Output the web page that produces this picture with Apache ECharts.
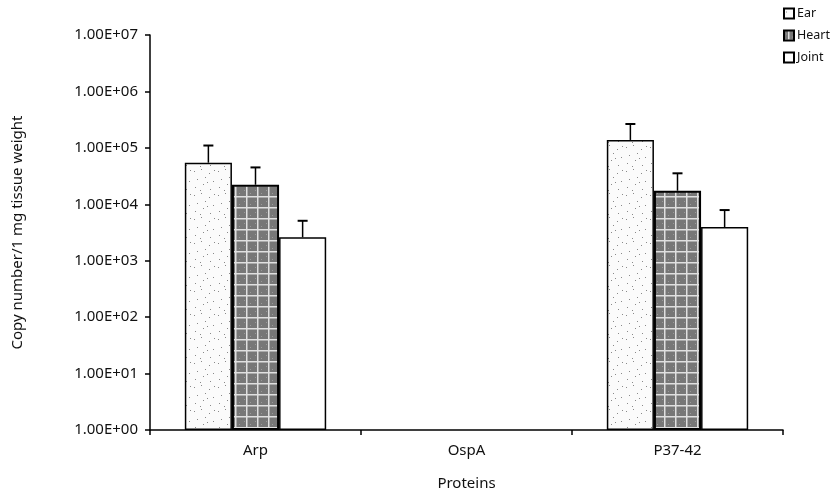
<!DOCTYPE html>
<html><head><meta charset="utf-8">
<script src="https://cdn.jsdelivr.net/npm/echarts@6/dist/echarts.min.js"></script>
<style>html,body{margin:0;padding:0;background:#fff}#c{width:832px;height:497px}</style>
</head><body><div id="c"></div>
<script>
const categories = ['Arp', 'OspA', 'P37-42'];
const seriesNames = ['Ear', 'Heart', 'Joint'];
const earValues = [54600, null, 138000];
const heartValues = [22200, null, 17400];
const jointValues = [2600, null, 3960];
const earUpper = [110000, null, 265000];
const heartUpper = [45000, null, 35400];
const jointUpper = [5100, null, 7900];
const yTickLabels = ['1.00E+00','1.00E+01','1.00E+02','1.00E+03','1.00E+04','1.00E+05','1.00E+06','1.00E+07'];

function makeEar(){
  const c = document.createElement('canvas'); c.width = 24; c.height = 24;
  const g = c.getContext('2d'); g.fillStyle = '#fbfbfb'; g.fillRect(0,0,24,24);
  g.fillStyle = '#8a8a8a';
  const pts = [[2,3],[9,1],[17,5],[5,11],[13,9],[21,13],[3,19],[11,16],[18,21],[8,22],[15,14],[22,2]];
  pts.forEach(p => g.fillRect(p[0], p[1], 1, 1));
  return c;
}
function makeHeart(){
  const c = document.createElement('canvas'); c.width = 11; c.height = 11;
  const g = c.getContext('2d'); g.fillStyle = '#777777'; g.fillRect(0,0,11,11);
  g.fillStyle = '#e0e0e0'; g.fillRect(0,9,11,1.5); g.fillRect(4,0,1.5,11);
  g.fillStyle = '#9a9a9a'; g.fillRect(2,3,1,1); g.fillRect(8,6,1,1);
  return c;
}
const earFill = {image: makeEar(), repeat: 'repeat'};
const heartFill = {image: makeHeart(), repeat: 'repeat'};

const fillStyles = [
  {color: earFill, borderColor: '#000', borderWidth: 1.5},
  {color: heartFill, borderColor: '#000', borderWidth: 2},
  {color: '#ffffff', borderColor: '#000', borderWidth: 1.5}
];
const values = [earValues, heartValues, jointValues];
const uppers = [earUpper, heartUpper, jointUpper];
const FONT = 'Noto Sans';

const series = [];
seriesNames.forEach((n, i) => {
  series.push({
    name: n, type: 'bar', data: values[i], barGap: '0%', barCategoryGap: '33%',
    itemStyle: fillStyles[i], emphasis: {disabled: true}, z: 2
  });
});
seriesNames.forEach((n, i) => {
  series.push({
    name: n + ' err', type: 'custom', z: 3,
    data: categories.map((c, k) => [k, values[i][k], uppers[i][k]]),
    renderItem: function(params, api){
      const v = api.value(1), u = api.value(2);
      if (v == null || isNaN(v) || u == null || isNaN(u)) return;
      const catW = api.size([1, 1])[0];
      const bw = catW * 0.67 / 3;
      const off = (i - 1) * bw;
      const p0 = api.coord([api.value(0), v]);
      const p1 = api.coord([api.value(0), u]);
      const x = p0[0] + off;
      return {type: 'group', children: [
        {type: 'line', shape: {x1: x, y1: p0[1], x2: x, y2: p1[1]}, style: {stroke: '#000', lineWidth: 1.5}},
        {type: 'line', shape: {x1: x - 5, y1: p1[1], x2: x + 5, y2: p1[1]}, style: {stroke: '#000', lineWidth: 2}}
      ]};
    }
  });
});

const chart = echarts.init(document.getElementById('c'));
chart.setOption({
  animation: false,
  backgroundColor: '#fff',
  textStyle: {fontFamily: FONT},
  grid: {left: 150, right: 49, top: 35, bottom: 67},
  legend: {
    data: seriesNames, orient: 'vertical', left: 783, top: 7, padding: 0, itemWidth: 10, itemHeight: 10,
    itemGap: 9, icon: 'rect', textStyle: {fontFamily: FONT, fontSize: 12.5, color: '#111', padding: [0,0,0,-2]}
  },
  xAxis: {
    type: 'category', data: categories,
    name: 'Proteins', nameLocation: 'middle', nameGap: 46,
    nameTextStyle: {fontFamily: FONT, fontSize: 15, color: '#111'},
    axisLine: {lineStyle: {color: '#000', width: 1.5}},
    axisTick: {show: true, length: 5, lineStyle: {color: '#000', width: 1.5}},
    axisLabel: {fontFamily: FONT, fontSize: 15, color: '#111', margin: 13}
  },
  yAxis: {
    type: 'log', logBase: 10, min: 1, max: 1e7,
    name: 'Copy number/1 mg tissue weight', nameLocation: 'middle', nameGap: 125, nameRotate: 90,
    nameTextStyle: {fontFamily: FONT, fontSize: 15, color: '#111'},
    axisLine: {show: true, lineStyle: {color: '#000', width: 1.5}},
    axisTick: {show: true, length: 5, lineStyle: {color: '#000', width: 1.5}},
    splitLine: {show: false},
    axisLabel: {fontFamily: FONT, fontSize: 15, color: '#111', margin: 12,
      formatter: function(v){ const k = Math.round(Math.log10(v)); return yTickLabels[k] || ''; }}
  },
  series: series
});
</script></body></html>
